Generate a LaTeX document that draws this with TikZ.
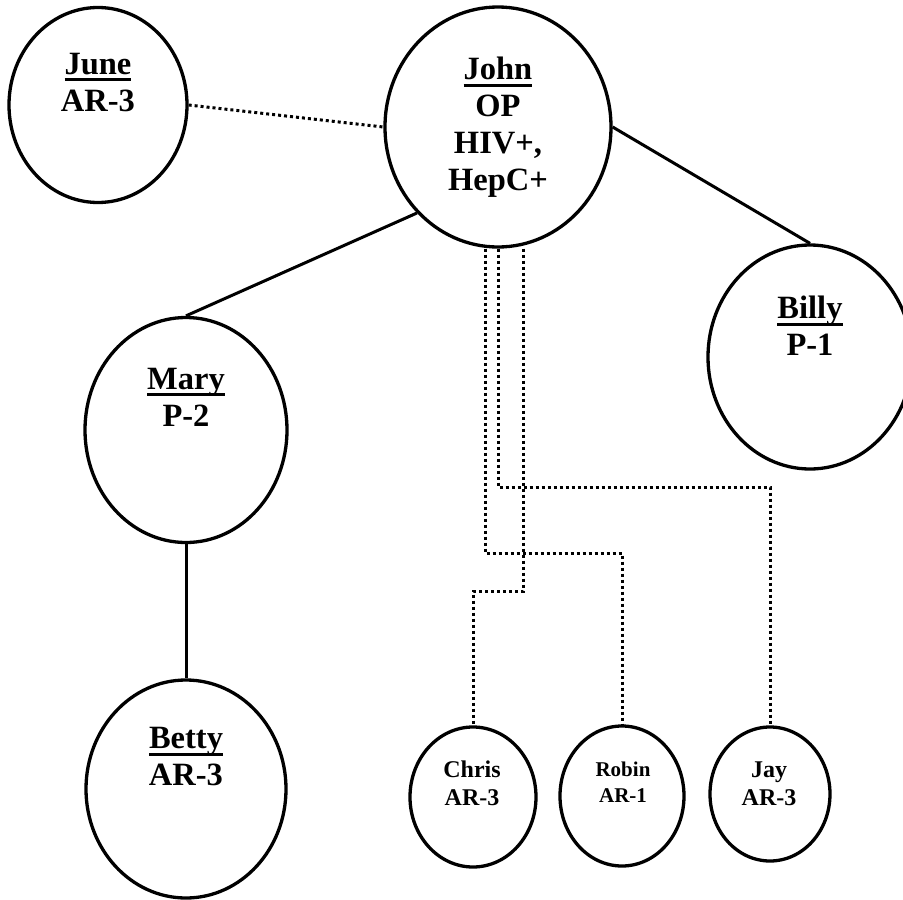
\documentclass[tikz,border=0pt]{standalone}
\usepackage{fontspec}
\setmainfont{Liberation Serif}
\usetikzlibrary{shapes.geometric,calc}
\tikzset{
    person/.style={draw, ellipse, line width=3.3pt, inner sep=0pt},
    bigname/.style={font=\fontsize{32.5}{37}\selectfont\bfseries, align=center, inner sep=0pt},
    smallname/.style={font=\fontsize{24}{28}\selectfont\bfseries, align=center, inner sep=0pt},
    tinyname/.style={font=\fontsize{21}{26}\selectfont\bfseries, align=center, inner sep=0pt},
    tie/.style={line width=3pt},
    dotlink/.style={line width=3pt, dash pattern=on 3pt off 3pt},
}
\newcommand{\nameline}[1]{\setbox0\hbox{#1}\rlap{\rule[-7pt]{\wd0}{3pt}}\box0}

\begin{document}
\begin{tikzpicture}[x=1pt, y=-1pt]
    \useasboundingbox (0,0) rectangle (903,900);
    \clip (0,0) rectangle (903,900);

    % 人物
    \node[person, minimum width=178pt, minimum height=195pt] (june) at (98,105) {};
    \node[person, minimum width=226pt, minimum height=240pt] (john) at (498,127) {};
    \node[person, minimum width=204pt, minimum height=224pt] (billy) at (810,357) {};
    \node[person, minimum width=202pt, minimum height=225pt] (mary) at (186,430) {};
    \node[person, minimum width=200pt, minimum height=218pt] (betty) at (186,789) {};
    \node[person, minimum width=126pt, minimum height=140pt] (chris) at (473,797) {};
    \node[person, minimum width=124pt, minimum height=140pt] (robin) at (622,796) {};
    \node[person, minimum width=120pt, minimum height=134pt] (jay) at (770,794) {};

    % 文字
    \node[bigname] (june text) at (98,82.5) {\nameline{June}\\AR-3};
    \node[bigname] (john text) at (498,127.5) {\nameline{John}\\OP\\HIV+,\\HepC+};
    \node[bigname] (billy text) at (810,326) {\nameline{Billy}\\P-1};
    \node[bigname] (mary text) at (186,397) {\nameline{Mary}\\P-2};
    \node[bigname] (betty text) at (186,757) {\nameline{Betty}\\AR-3};
    \node[smallname] (chris text) at (472,783.5) {Chris\\AR-3};
    \node[tinyname] (robin text) at (623,782) {Robin\\AR-1};
    \node[smallname] (jay text) at (769,784) {Jay\\AR-3};

    % 实线
    \draw[tie] (john.south west) -- (mary.north);
    \draw[tie] (john.east) -- (billy.north);
    \draw[tie] (mary.south) -- (betty.north);

    % 虚线
    \draw[dotlink] (june.east) -- (john.west);
    \draw[dotlink] (john.south) -- ++(0,238.5) -| (jay.north);
    \draw[dotlink] ([xshift=-13pt]john.south) -- ++(0,304.5) -| (robin.north);
    \draw[dotlink] ([xshift=25pt]john.south) -- ++(0,342.5) -| (chris.north);
\end{tikzpicture}
\end{document}
